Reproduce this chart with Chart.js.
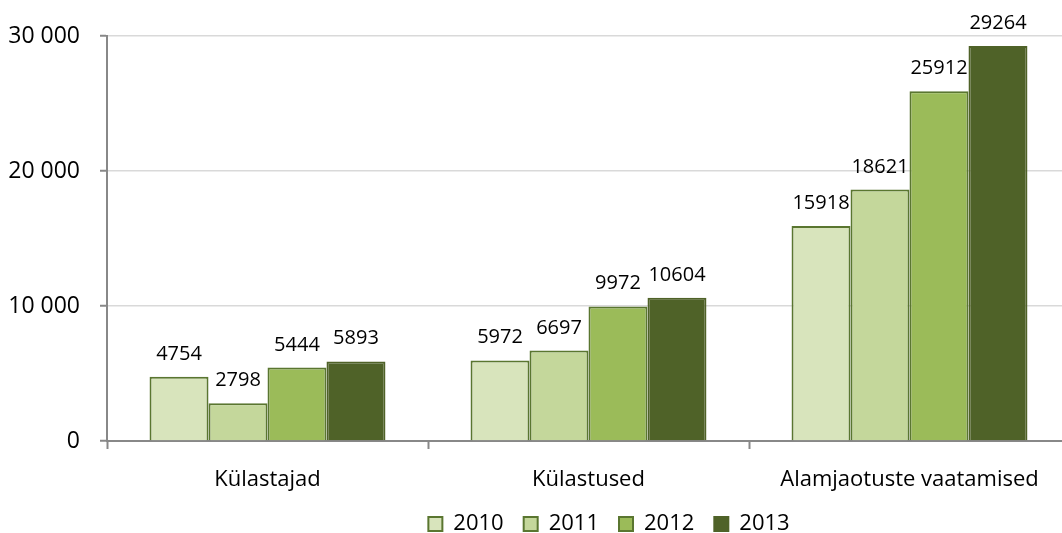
<!DOCTYPE html>
<html>
<head>
<meta charset="utf-8">
<script src="https://cdn.jsdelivr.net/npm/chart.js@4/dist/chart.umd.min.js"></script>
<style>
    html, body { margin: 0; padding: 0; background: #fff; overflow: hidden; }
    #wrap { width: 1062px; height: 533px; overflow: hidden; }
</style>
</head>
<body>
<div id="wrap"><canvas id="chart" width="1218" height="533"></canvas></div>
<script>
const categories = ['Külastajad', 'Külastused', 'Alamjaotuste vaatamised'];
const years = ['2010', '2011', '2012', '2013'];
const values2010 = [4754, 5972, 15918];
const values2011 = [2798, 6697, 18621];
const values2012 = [5444, 9972, 25912];
const values2013 = [5893, 10604, 29264];
const yTicks = [0, 10000, 20000, 30000];

const fills = ['#d8e4bc', '#c4d79b', '#9bbb59', '#4f6228'];
const borders = ['#5a7630', '#5a7630', '#5a7630', '#4f6228'];
const FONT = "'Open Sans', 'DejaVu Sans', sans-serif";

// draws the numbers above each bar
const barValues = {
    id: 'barValues',
    afterDatasetsDraw(chart) {
        const ctx = chart.ctx;
        ctx.save();
        ctx.font = '20px ' + FONT;
        ctx.fillStyle = '#000';
        ctx.textAlign = 'center';
        ctx.textBaseline = 'alphabetic';
        chart.data.datasets.forEach((ds, i) => {
            chart.getDatasetMeta(i).data.forEach((bar, j) => {
                ctx.fillText(String(ds.data[j]), bar.x, bar.y - 17);
            });
        });
        ctx.restore();
    }
};

// legend sits a bit right of and below where chart.js centres it,
// and the x labels need more room than the squeezed axis box gives them
const layoutTweak = {
    id: 'layoutTweak',
    afterLayout(chart) {
        const lg = chart.legend;
        lg.left += 74; lg.right += 74;
        lg.top += 12; lg.bottom += 12;
        const x = chart.scales.x;
        x.bottom = x.top + 70;
    }
};

const allValues = [values2010, values2011, values2012, values2013];

new Chart(document.getElementById('chart'), {
    type: 'bar',
    data: {
        labels: categories,
        datasets: years.map((y, i) => ({
            label: y,
            data: allValues[i],
            backgroundColor: fills[i],
            borderColor: borders[i],
            borderWidth: 2,
            categoryPercentage: 0.735,
            barPercentage: 1
        }))
    },
    options: {
        responsive: false,
        animation: false,
        layout: { padding: { top: 36, right: 148, bottom: 0, left: 0 } },
        plugins: {
            tooltip: { enabled: false },
            legend: {
                position: 'bottom',
                labels: {
                    boxWidth: 14,
                    boxHeight: 14,
                    padding: 20,
                    color: '#000',
                    font: { family: FONT, size: 22 }
                }
            }
        },
        scales: {
            x: {
                afterFit: s => { s.height = 40; },
                grid: {
                    drawOnChartArea: false,
                    drawTicks: true,
                    tickLength: 8,
                    tickWidth: 2,
                    tickColor: '#888'
                },
                border: { color: '#888', width: 2 },
                ticks: {
                    padding: 18,
                    color: '#000',
                    font: { family: FONT, size: 22 }
                }
            },
            y: {
                min: 0,
                max: 30000,
                afterFit: s => { s.width = 107; },
                afterBuildTicks: s => { s.ticks = yTicks.map(v => ({ value: v })); },
                grid: {
                    color: '#d9d9d9',
                    lineWidth: 1.5,
                    tickLength: 7,
                    tickColor: '#888',
                    tickWidth: 2
                },
                border: { color: '#888', width: 2 },
                ticks: {
                    padding: 20,
                    color: '#000',
                    font: { family: FONT, size: 23 },
                    callback: v => v === 0 ? '0' : String(v).replace(/\B(?=(\d{3})+(?!\d))/g, ' ')
                }
            }
        }
    },
    plugins: [barValues, layoutTweak]
});
</script>
</body>
</html>
